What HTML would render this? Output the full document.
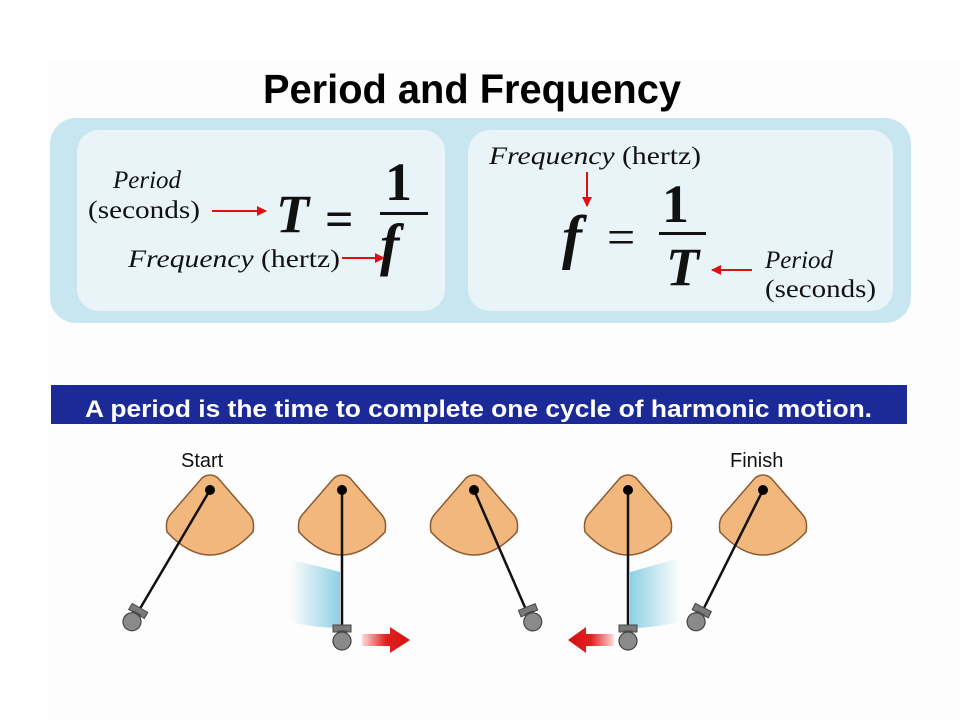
<!DOCTYPE html>
<html><head><meta charset="utf-8"><style>
html,body{margin:0;padding:0;background:#fff;}
svg{display:block;}
</style></head><body>
<svg width="960" height="720" viewBox="0 0 960 720" xmlns="http://www.w3.org/2000/svg">
<defs>
<marker id="ah" viewBox="0 0 10 10" refX="9" refY="5" markerWidth="5" markerHeight="5" orient="auto"><path d="M0,0 L10,5 L0,10 z" fill="#e01010"/></marker>
<linearGradient id="sh1" x1="1" y1="0" x2="0" y2="0"><stop offset="0" stop-color="#8fd0e4"/><stop offset="1" stop-color="#8fd0e4" stop-opacity="0"/></linearGradient>
<linearGradient id="sh2" x1="0" y1="0" x2="1" y2="0"><stop offset="0" stop-color="#8fd0e4"/><stop offset="1" stop-color="#8fd0e4" stop-opacity="0"/></linearGradient>
<linearGradient id="ar1" x1="0" y1="0" x2="1" y2="0"><stop offset="0" stop-color="#e82020" stop-opacity="0.15"/><stop offset="0.5" stop-color="#e02020"/><stop offset="1" stop-color="#d81010"/></linearGradient>
<linearGradient id="ar2" x1="1" y1="0" x2="0" y2="0"><stop offset="0" stop-color="#e82020" stop-opacity="0.15"/><stop offset="0.5" stop-color="#e02020"/><stop offset="1" stop-color="#d81010"/></linearGradient>
<g id="cone"><path d="M-8,-12 Q0,-18 8,-12 L40,25 Q45,31 43,42 Q0,88 -43,42 Q-45,31 -40,25 Z" fill="#f2b77c" stroke="#8a5a30" stroke-width="1.5"/></g>
<g id="bob"><rect x="-9" y="-14" width="18" height="7" fill="#7a7a7a" stroke="#444" stroke-width="1"/><rect x="-4" y="-8" width="8" height="4" fill="#7a7a7a" stroke="#444" stroke-width="1"/><circle cx="0" cy="2" r="9" fill="#8a8a8a" stroke="#444" stroke-width="1.2"/></g>
</defs>
<rect x="48" y="62" width="912" height="658" fill="#fdfdfd"/>
<text x="263" y="103" font-family="Liberation Sans, sans-serif" font-weight="bold" font-size="41" textLength="418" lengthAdjust="spacingAndGlyphs">Period and Frequency</text>
<rect x="50" y="118" width="861" height="205" rx="26" fill="#c8e6f0"/>
<rect x="77" y="130" width="368" height="181" rx="22" fill="#e9f4f8"/>
<rect x="468" y="130" width="425" height="181" rx="22" fill="#e9f4f8"/>
<g font-family="Liberation Serif, serif" fill="#111">
<text x="113" y="188" font-style="italic" font-size="25">Period</text>
<text x="88" y="218" font-size="25" textLength="112" lengthAdjust="spacingAndGlyphs">(seconds)</text>
<text x="128" y="267" font-size="25" textLength="212" lengthAdjust="spacingAndGlyphs"><tspan font-style="italic">Frequency</tspan> (hertz)</text>
<text x="276" y="232" font-size="54" font-weight="bold" font-style="italic">T</text>
<text x="325" y="236" font-size="50" font-weight="bold">=</text>
<text x="385" y="200" font-size="54" font-weight="bold">1</text>
<rect x="380" y="212" width="48" height="3" fill="#111"/>
<text x="380" y="264" font-size="58" font-weight="bold" font-style="italic">f</text>
<text x="489" y="164" font-size="25" textLength="212" lengthAdjust="spacingAndGlyphs"><tspan font-style="italic">Frequency</tspan> (hertz)</text>
<text x="562" y="257" font-size="60" font-weight="bold" font-style="italic">f</text>
<text x="607" y="254" font-size="50">=</text>
<text x="662" y="222" font-size="54" font-weight="bold">1</text>
<rect x="659" y="232" width="47" height="3" fill="#111"/>
<text x="666" y="285" font-size="54" font-weight="bold" font-style="italic">T</text>
<text x="765" y="268" font-style="italic" font-size="25">Period</text>
<text x="765" y="297" font-size="25" textLength="111" lengthAdjust="spacingAndGlyphs">(seconds)</text>
</g>
<g stroke="#e01010" stroke-width="2" fill="none">
<line x1="212" y1="211" x2="266" y2="211" marker-end="url(#ah)"/>
<line x1="342" y1="258" x2="384" y2="258" marker-end="url(#ah)"/>
<line x1="587" y1="172" x2="587" y2="206" marker-end="url(#ah)"/>
<line x1="752" y1="270" x2="712" y2="270" marker-end="url(#ah)"/>
</g>
<rect x="51" y="385" width="856" height="39" fill="#1c2a98"/>
<text x="85" y="417" font-family="Liberation Sans, sans-serif" font-weight="bold" font-size="24" fill="#fff" textLength="787" lengthAdjust="spacingAndGlyphs">A period is the time to complete one cycle of harmonic motion.</text>
<g font-family="Liberation Sans, sans-serif" font-size="20" fill="#111">
<text x="181" y="467">Start</text>
<text x="730" y="467">Finish</text>
</g>
<path d="M290,560 Q315,565 340,572 L340,628 Q315,628 290,622 Z" fill="url(#sh1)"/>
<path d="M630,572 Q655,565 680,558 L680,622 Q655,628 630,628 Z" fill="url(#sh2)"/>
<polygon points="362,634 390,634 390,627 410,640 390,653 390,646 362,646" fill="url(#ar1)"/>
<polygon points="614,634 586,634 586,627 568,640 586,653 586,646 614,646" fill="url(#ar2)"/>
<g>
<use href="#cone" x="210" y="490"/>
<use href="#cone" x="342" y="490"/>
<use href="#cone" x="474" y="490"/>
<use href="#cone" x="628" y="490"/>
<use href="#cone" x="763" y="490"/>
</g>
<g stroke="#111" stroke-width="2.5">
<line x1="210" y1="490" x2="138" y2="612"/>
<line x1="342" y1="490" x2="342" y2="628"/>
<line x1="474" y1="490" x2="527" y2="612"/>
<line x1="628" y1="490" x2="628" y2="628"/>
<line x1="763" y1="490" x2="702" y2="612"/>
</g>
<g fill="#000">
<circle cx="210" cy="490" r="5"/><circle cx="342" cy="490" r="5"/><circle cx="474" cy="490" r="5"/><circle cx="628" cy="490" r="5"/><circle cx="763" cy="490" r="5"/>
</g>
<g transform="translate(133,620) rotate(30)"><use href="#bob"/></g>
<g transform="translate(342,639)"><use href="#bob"/></g>
<g transform="translate(532,620) rotate(-22)"><use href="#bob"/></g>
<g transform="translate(628,639)"><use href="#bob"/></g>
<g transform="translate(697,620) rotate(27)"><use href="#bob"/></g>
</svg>
</body></html>
